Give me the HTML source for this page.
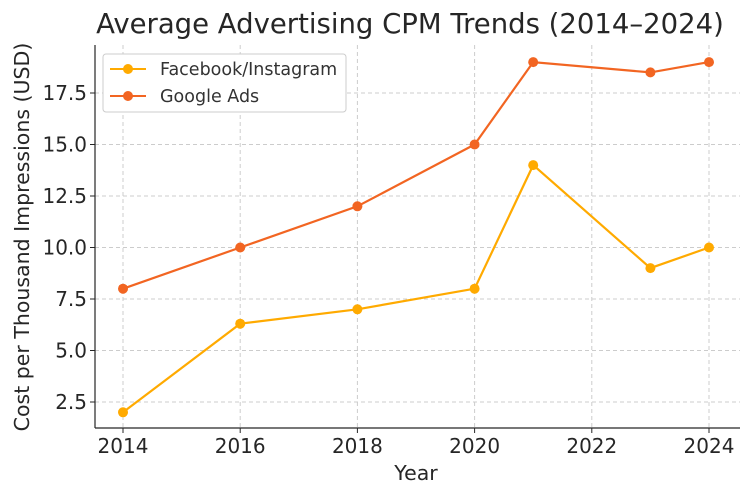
<!DOCTYPE html>
<html><head><meta charset="utf-8"><style>
body{margin:0;background:#fff;}
svg{font-family:"DejaVu Sans","Liberation Sans",sans-serif;}
</style></head><body>
<svg id="chart" width="752" height="498">
<text x="410" y="33" font-size="27.5" text-anchor="middle" fill="#262626">Average Advertising CPM Trends (2014–2024)</text>
<g id="grid"></g><g id="axes"></g><g id="series"></g>
<text x="416" y="480" font-size="20.5" text-anchor="middle" fill="#262626">Year</text>
<text transform="translate(29,237) rotate(-90)" font-size="20.5" text-anchor="middle" fill="#262626">Cost per Thousand Impressions (USD)</text>
<g>
<rect x="103" y="54" width="243" height="58" rx="3" fill="#fff" stroke="#ccc"/>
<line x1="110" y1="69" x2="146" y2="69" stroke="#FFAA00" stroke-width="2"/><circle cx="128" cy="69" r="5" fill="#FFAA00"/>
<text x="160" y="75" font-size="17.5" fill="#333">Facebook/Instagram</text>
<line x1="110" y1="96" x2="146" y2="96" stroke="#F26522" stroke-width="2"/><circle cx="128" cy="96" r="5" fill="#F26522"/>
<text x="160" y="102" font-size="17.5" fill="#333">Google Ads</text>
</g>
</svg>
<script>
const years=[2014,2016,2018,2020,2021,2023,2024];
const facebook=[2,6.3,7,8,14,9,10];
const google=[8,10,12,15,19,18.5,19];
const xTicks=[2014,2016,2018,2020,2022,2024];
const yTicks=[2.5,5.0,7.5,10.0,12.5,15.0,17.5];
const NS="http://www.w3.org/2000/svg";
const L=95,R=740,T=45,B=428;
const x=v=>123+(v-2014)*58.6;
const y=v=>453.5-v*20.6;
function mk(tag,attrs,parent,text){const e=document.createElementNS(NS,tag);for(const k in attrs)e.setAttribute(k,attrs[k]);if(text!==undefined)e.textContent=text;parent.appendChild(e);return e;}
const grid=document.getElementById('grid'),axes=document.getElementById('axes'),ser=document.getElementById('series');
xTicks.forEach(t=>{
 const g=mk('line',{x1:x(t),x2:x(t),y1:T,y2:B,stroke:'#ccc','stroke-dasharray':'4,3'},grid);
 
 
 mk('line',{x1:x(t),x2:x(t),y1:B,y2:B+5,stroke:'#262626'},axes);
 const lb=mk('text',{x:x(t),y:B+25,'font-size':20,'text-anchor':'middle',fill:'#262626'},axes,t);
 
 
});
yTicks.forEach(t=>{
 const g=mk('line',{x1:L,x2:R,y1:y(t),y2:y(t),stroke:'#ccc','stroke-dasharray':'4,3'},grid);
 
 
 mk('line',{x1:L-5,x2:L,y1:y(t),y2:y(t),stroke:'#262626'},axes);
 const lb=mk('text',{x:L-8,y:y(t)+7,'font-size':20,'text-anchor':'end',fill:'#262626'},axes,t.toFixed(1));
 
 
});
mk('line',{x1:L,x2:L,y1:T,y2:B,stroke:'#262626','stroke-width':1.2},axes);
mk('line',{x1:L,x2:R,y1:B,y2:B,stroke:'#262626','stroke-width':1.2},axes);
function draw(vals,color,name){
 const p=mk('polyline',{points:years.map((yr,i)=>x(yr)+','+y(vals[i])).join(' '),fill:'none',stroke:color,'stroke-width':2.2},ser);
 
 
 years.forEach((yr,i)=>{
  const c=mk('circle',{cx:x(yr),cy:y(vals[i]),r:5,fill:color},ser);
  
  
 });
}
draw(facebook,'#FFAA00','facebook');
draw(google,'#F26522','google');
</script>
</body></html>
